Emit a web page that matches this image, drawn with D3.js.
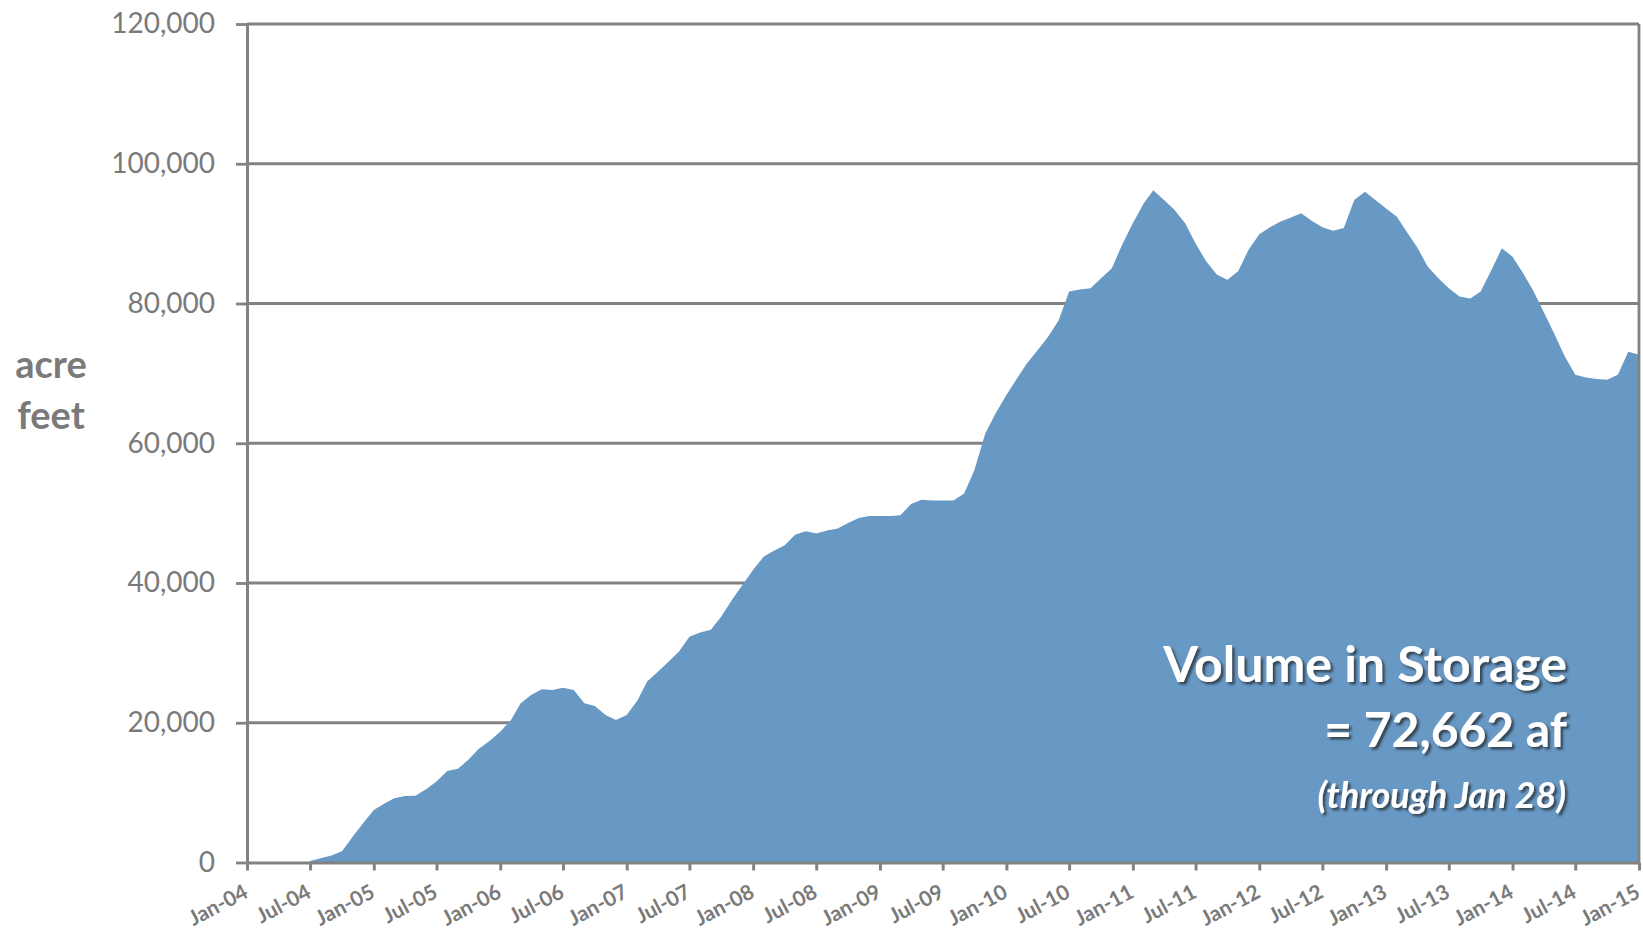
<!DOCTYPE html>
<html>
<head>
<meta charset="utf-8">
<script src="https://cdn.jsdelivr.net/npm/d3@7"></script>
<style>
  html, body { margin: 0; padding: 0; background: #fff; }
  #viz { width: 1643px; height: 931px; overflow: hidden; }
  text { font-family: Lato, "Open Sans", sans-serif; }
</style>
</head>
<body>
<div id="viz"></div>
<script>
/***************** Data *********************/
// monthly storage volume (acre feet), first value is Jul 2004
var firstMonth = "2004-07-01";
var volume = [
  200, 600, 1000, 1600, 3700, 5600,                                   // 2004 Jul-Dec
  7500, 8450, 9200, 9500, 9550, 10500, 11600, 13100, 13400, 14700, 16300, 17400,   // 2005
  18700, 20400, 22800, 24000, 24800, 24700, 25000, 24700, 22800, 22400, 21100, 20400, // 2006
  21100, 23200, 25900, 27300, 28700, 30200, 32300, 32900, 33300, 35200, 37600, 39700, // 2007
  41900, 43800, 44600, 45400, 46900, 47400, 47100, 47500, 47800, 48600, 49300, 49600, // 2008
  49600, 49600, 49700, 51300, 51900, 51800, 51800, 51800, 52800, 56200, 61400, 64300, // 2009
  66900, 69300, 71400, 73300, 75200, 77600, 81700, 82000, 82200, 83600, 85000, 88400, // 2010
  91500, 94300, 96200, 94800, 93400, 91500, 88600, 86000, 84100, 83400, 84600, 87700, // 2011
  89900, 90900, 91700, 92300, 92900, 91800, 90900, 90400, 90800, 94800, 96000, 94800, // 2012
  93600, 92400, 90300, 88000, 85300, 83600, 82200, 81000, 80700, 81700, 84800, 87900, // 2013
  86700, 84300, 81900, 78800, 75700, 72400, 69800, 69400, 69200, 69100, 69800, 73100, // 2014
  72662                                                               // 2015 Jan (through Jan 28)
];
var yTicks = [0, 20000, 40000, 60000, 80000, 100000, 120000];
var xStart = "2004-01-01",
    xEnd = "2015-01-01";
var unitLabel = ["acre", "feet"];
var noteLines = ["Volume in Storage", "= 72,662 af", "(through Jan 28)"];

/***************** Layout *********************/
var W = 1643,
    H = 931,
    plotLeft = 247,
    plotRight = 1639,
    plotTop = 24,
    plotBottom = 862.5,
    grid_color = "#828282",
    text_color = "#7a7a7a",
    fill_color = "#6898c4";

var parse = d3.utcParse("%Y-%m-%d");
var start = parse(firstMonth);
var data = volume.map(function(v, i) {
  return { date: d3.utcMonth.offset(start, i), value: v };
});

var svg = d3.select("#viz")
    .append("svg")
    .attr("width", W)
    .attr("height", H);

svg.append("rect")
    .attr("width", W).attr("height", H)
    .attr("fill", "#fff");

var defs = svg.append("defs");
var shadow = defs.append("filter")
    .attr("id", "shadow")
    .attr("x", "-10%").attr("y", "-30%")
    .attr("width", "130%").attr("height", "160%");
shadow.append("feDropShadow")
    .attr("dx", 2.5).attr("dy", 2.5)
    .attr("stdDeviation", 1.2)
    .attr("flood-color", "#2b3440")
    .attr("flood-opacity", 0.85);

var x = d3.scaleUtc().domain([parse(xStart), parse(xEnd)]).range([plotLeft, plotRight]);
var y = d3.scaleLinear().domain([0, 120000]).range([plotBottom, plotTop]);

/* Gridlines */
svg.append("g")
    .selectAll("line")
    .data(yTicks.filter(function(d) { return d > 0; }))
    .enter()
    .append("line")
    .attr("x1", plotLeft)
    .attr("x2", plotRight)
    .attr("y1", function(d) { return y(d); })
    .attr("y2", function(d) { return y(d); })
    .attr("stroke", grid_color)
    .attr("stroke-width", 2.8);

/* Area */
var area = d3.area()
    .x(function(d) { return x(d.date); })
    .y0(y(0))
    .y1(function(d) { return y(d.value); });

svg.append("path")
    .datum(data)
    .attr("d", area)
    .attr("fill", fill_color);

/* Right border of plot area */
svg.append("line")
    .attr("x1", plotRight).attr("x2", plotRight)
    .attr("y1", y(120000)).attr("y2", y(0))
    .attr("stroke", grid_color)
    .attr("stroke-width", 2.8);

/* Y axis */
var yAxis = d3.axisLeft(y)
    .tickValues(yTicks)
    .tickFormat(d3.format(","))
    .tickSizeInner(11)
    .tickSizeOuter(0)
    .tickPadding(21);

var gy = svg.append("g")
    .attr("transform", "translate(" + plotLeft + ",0)")
    .call(yAxis);
gy.select(".domain").attr("stroke", grid_color).attr("stroke-width", 3);
gy.selectAll(".tick line").attr("stroke", grid_color).attr("stroke-width", 2.8);
gy.selectAll(".tick text")
    .style("font-family", "Lato, sans-serif")
    .style("font-size", "28px")
    .attr("fill", text_color);

/* X axis */
var xTickDates = d3.utcMonth.every(6).range(parse(xStart), d3.utcDay.offset(parse(xEnd), 1));
var xAxis = d3.axisBottom(x)
    .tickValues(xTickDates)
    .tickFormat(d3.utcFormat("%b-%y"))
    .tickSizeInner(8)
    .tickSizeOuter(0);

var gx = svg.append("g")
    .attr("transform", "translate(0," + plotBottom + ")")
    .call(xAxis);
gx.select(".domain").attr("stroke", grid_color).attr("stroke-width", 3);
gx.selectAll(".tick line").attr("stroke", grid_color).attr("stroke-width", 3);
gx.selectAll(".tick text")
    .style("font-family", "Lato, sans-serif")
    .style("font-size", "21px")
    .style("font-weight", "bold")
    .attr("fill", text_color)
    .attr("text-anchor", "end")
    .attr("dy", null)
    .attr("y", 0)
    .attr("transform", "translate(2,34) rotate(-28)");

/* Unit label */
svg.append("text")
    .attr("x", 51)
    .attr("y", 378)
    .attr("text-anchor", "middle")
    .style("font-size", "38px")
    .style("font-weight", "bold")
    .attr("fill", text_color)
    .selectAll("tspan")
    .data(unitLabel)
    .enter()
    .append("tspan")
    .attr("x", 51)
    .attr("dy", function(d, i) { return i === 0 ? 0 : 51; })
    .text(function(d) { return d; });

/* Annotation */
var note = svg.append("g")
    .attr("filter", "url(#shadow)")
    .attr("fill", "#fff")
    .attr("text-anchor", "end");

note.append("text")
    .attr("x", 1567).attr("y", 682)
    .style("font-size", "50px")
    .style("font-weight", "bold")
    .text(noteLines[0]);

note.append("text")
    .attr("x", 1567).attr("y", 747)
    .style("font-size", "48px")
    .style("font-weight", "bold")
    .text(noteLines[1]);

note.append("text")
    .attr("x", 1566).attr("y", 808)
    .style("font-size", "36px")
    .style("font-weight", "bold")
    .style("font-style", "italic")
    .text(noteLines[2]);
</script>
</body>
</html>
